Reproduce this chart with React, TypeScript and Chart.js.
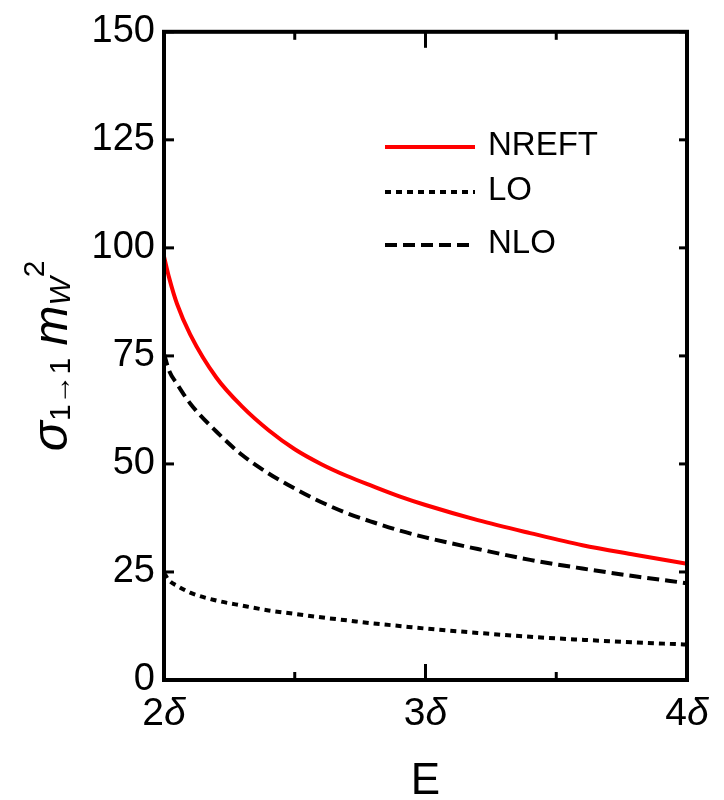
import React, { useEffect, useRef } from 'react';
import { Chart, registerables } from 'chart.js';

Chart.register(...registerables);

// Energy E in units of δ
const energies = [2.0, 2.02, 2.05, 2.1, 2.2, 2.3, 2.4, 2.5, 2.6, 2.7, 2.8, 2.9, 3.0, 3.2, 3.4, 3.6, 3.8, 4.0];
const nreftValues = [98, 93, 87, 80, 70, 63.2, 57.8, 53.4, 50, 47.2, 44.8, 42.5, 40.5, 37, 34, 31.2, 29, 26.9];
const loValues = [24.8, 23, 21.8, 20.2, 18.4, 17.2, 16.1, 15.3, 14.5, 13.8, 13.1, 12.5, 11.9, 10.9, 10, 9.3, 8.7, 8.2];
const nloValues = [75.5, 71.5, 68.5, 64, 57.5, 52, 47.8, 44.3, 41.2, 38.6, 36.5, 34.6, 33, 30.3, 27.8, 25.8, 24, 22.4];

const seriesLabels = ['NREFT', 'LO', 'NLO'];
const xMajorTicks = [2, 3, 4];
const xTickLabels = ['2δ', '3δ', '4δ'];
const xMinorTicks = [2.5, 3.5];
const yTickValues = [0, 25, 50, 75, 100, 125, 150];
const xAxisTitle = 'E';

const FONT = '"Liberation Sans", Arial, sans-serif';

const framePlugin = {
  id: 'frameAndLabels',
  afterDatasetsDraw(chart: any) {
    const { ctx, chartArea: a, scales } = chart;
    const xs = scales.x;
    const ys = scales.y;
    ctx.save();
    ctx.strokeStyle = '#000';
    ctx.lineCap = 'butt';
    const seg = (x1: number, y1: number, x2: number, y2: number, w: number) => {
      ctx.lineWidth = w;
      ctx.beginPath();
      ctx.moveTo(x1, y1);
      ctx.lineTo(x2, y2);
      ctx.stroke();
    };
    // ticks (pointing inward)
    xMajorTicks.forEach((v) => {
      const px = xs.getPixelForValue(v);
      seg(px, a.bottom, px, a.bottom - 16, 3);
      seg(px, a.top, px, a.top + 16, 3);
    });
    xMinorTicks.forEach((v) => {
      const px = xs.getPixelForValue(v);
      seg(px, a.bottom, px, a.bottom - 8, 3);
      seg(px, a.top, px, a.top + 8, 3);
    });
    yTickValues.forEach((v) => {
      const py = ys.getPixelForValue(v);
      seg(a.left, py, a.left + 10, py, 3);
      seg(a.right, py, a.right - 8, py, 3);
    });
    // frame
    ctx.lineWidth = 4;
    ctx.strokeRect(a.left, a.top, a.right - a.left, a.bottom - a.top);

    // x tick labels: number upright, δ italic
    ctx.fillStyle = '#000';
    ctx.textBaseline = 'alphabetic';
    ctx.textAlign = 'left';
    xMajorTicks.forEach((v, i) => {
      const lab = xTickLabels[i];
      const num = lab.slice(0, -1);
      const greek = lab.slice(-1);
      ctx.font = `39px ${FONT}`;
      const w1 = ctx.measureText(num).width;
      ctx.font = `italic 39px ${FONT}`;
      const w2 = ctx.measureText(greek).width;
      const px = xs.getPixelForValue(v);
      const start = px - (w1 + w2) / 2;
      ctx.font = `39px ${FONT}`;
      ctx.fillText(num, start, a.bottom + 45);
      ctx.font = `italic 39px ${FONT}`;
      ctx.fillText(greek, start + w1, a.bottom + 45);
    });

    // x axis title
    ctx.font = `44px ${FONT}`;
    ctx.textAlign = 'center';
    ctx.fillText(xAxisTitle, (a.left + a.right) / 2, a.bottom + 114);

    // y axis title: σ_{1→1} m_W^2
    const parts = [
      { t: 'σ', font: `italic 50px ${FONT}`, dy: 0 },
      { t: '1→1', font: `30px ${FONT}`, dy: 3 },
      { t: ' ', font: `44px ${FONT}`, dy: 0 },
      { t: 'm', font: `italic 48px ${FONT}`, dy: 0 },
      { t: 'W', font: `italic 30px ${FONT}`, dy: 3 },
      { t: '2', font: `30px ${FONT}`, dy: -23 },
    ];
    let total = 0;
    const widths = parts.map((p) => {
      ctx.font = p.font;
      const w = ctx.measureText(p.t).width;
      total += w;
      return w;
    });
    const centerY = (a.top + a.bottom) / 2;
    ctx.translate(67, centerY + total / 2);
    ctx.rotate(-Math.PI / 2);
    ctx.textAlign = 'left';
    let cx = 0;
    parts.forEach((p, i) => {
      ctx.font = p.font;
      ctx.fillText(p.t, cx, p.dy);
      cx += widths[i];
    });
    ctx.restore();

    // legend
    ctx.save();
    const rows = [147, 192, 245];
    chart.data.datasets.forEach((ds: any, i: number) => {
      const y = rows[i];
      ctx.strokeStyle = ds.borderColor;
      ctx.lineWidth = ds.borderWidth;
      ctx.setLineDash(ds.borderDash || []);
      ctx.beginPath();
      ctx.moveTo(385, y);
      ctx.lineTo(475, y);
      ctx.stroke();
      ctx.setLineDash([]);
      ctx.fillStyle = '#000';
      ctx.font = `33px ${FONT}`;
      ctx.textAlign = 'left';
      ctx.textBaseline = 'middle';
      ctx.fillText(ds.label, 488, y - 1);
    });
    ctx.restore();
  },
};

export default function App() {
  const ref = useRef<HTMLCanvasElement>(null);
  useEffect(() => {
    const toPts = (vals: number[]) => energies.map((e, i) => ({ x: e, y: vals[i] }));
    const chart = new Chart(ref.current as HTMLCanvasElement, {
      type: 'line',
      data: {
        datasets: [
          {
            label: seriesLabels[0],
            data: toPts(nreftValues),
            borderColor: '#ff0000',
            borderWidth: 4,
            pointRadius: 0,
            cubicInterpolationMode: 'monotone',
            fill: false,
          },
          {
            label: seriesLabels[1],
            data: toPts(loValues),
            borderColor: '#000000',
            borderWidth: 4,
            borderDash: [6, 5],
            pointRadius: 0,
            cubicInterpolationMode: 'monotone',
            fill: false,
          },
          {
            label: seriesLabels[2],
            data: toPts(nloValues),
            borderColor: '#000000',
            borderWidth: 4,
            borderDash: [12, 6],
            pointRadius: 0,
            cubicInterpolationMode: 'monotone',
            fill: false,
          },
        ],
      },
      options: {
        responsive: false,
        animation: false,
        layout: { padding: { left: 0, top: 24, right: 37, bottom: 0 } },
        plugins: { legend: { display: false }, tooltip: { enabled: false } },
        scales: {
          x: {
            type: 'linear',
            min: 2,
            max: 4,
            grid: { display: false },
            border: { display: false },
            ticks: { display: false },
            afterFit: (s: any) => {
              s.height = 120;
            },
          },
          y: {
            type: 'linear',
            min: 0,
            max: 150,
            grid: { display: false, drawTicks: false },
            border: { display: false },
            ticks: {
              stepSize: 25,
              padding: 9,
              color: '#000',
              font: { family: FONT, size: 38 },
            },
            afterFit: (s: any) => {
              s.width = 164;
            },
          },
        },
      },
      plugins: [framePlugin],
    } as any);
    return () => chart.destroy();
  }, []);
  return (
    <div style={{ position: 'absolute', left: 0, top: 0, width: 724, height: 800, background: '#fff' }}>
      <canvas ref={ref} width={724} height={800} style={{ display: 'block' }} />
    </div>
  );
}
